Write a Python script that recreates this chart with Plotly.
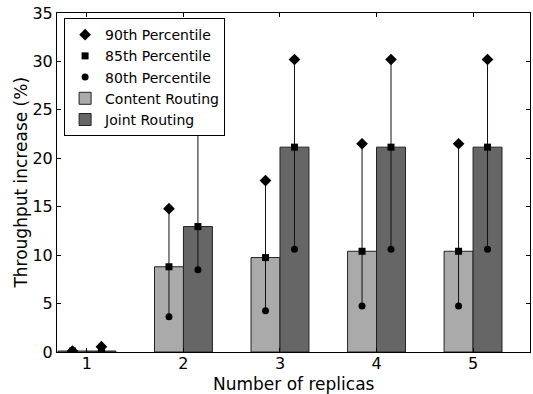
import plotly.graph_objects as go

replicas = [1, 2, 3, 4, 5]
content_p85 = [0.1, 8.8, 9.75, 10.4, 10.4]
content_p90 = [0.1, 14.8, 17.7, 21.5, 21.5]
content_p80 = [0.1, 3.65, 4.25, 4.75, 4.75]
joint_p85 = [0.1, 12.95, 21.15, 21.15, 21.15]
joint_p90 = [0.55, 26.0, 30.2, 30.2, 30.2]
joint_p80 = [0.1, 8.5, 10.6, 10.6, 10.6]

BW = 0.3
xc = [r - BW / 2 for r in replicas]
xj = [r + BW / 2 for r in replicas]

fig = go.Figure()
fig.add_trace(go.Bar(x=replicas, y=content_p85, width=BW, offset=-BW, name="Content Routing",
                     marker=dict(color="#aaaaaa", line=dict(color="#222222", width=1)), legendrank=4))
fig.add_trace(go.Bar(x=replicas, y=joint_p85, width=BW, offset=0, name="Joint Routing",
                     marker=dict(color="#666666", line=dict(color="#222222", width=1)), legendrank=5))

# vertical range lines
lx, ly = [], []
for xs, lo, hi in [(xc, content_p80, content_p90), (xj, joint_p80, joint_p90)]:
    for x, a, b in zip(xs, lo, hi):
        lx += [x, x, None]
        ly += [a, b, None]
fig.add_trace(go.Scatter(x=lx, y=ly, mode="lines", line=dict(color="#111111", width=1),
                         showlegend=False, hoverinfo="skip"))

allx = xc + xj
fig.add_trace(go.Scatter(x=allx, y=content_p90 + joint_p90, mode="markers", name="90th Percentile",
                         marker=dict(symbol="diamond", size=9, color="black"), legendrank=1))
fig.add_trace(go.Scatter(x=allx, y=content_p85 + joint_p85, mode="markers", name="85th Percentile",
                         marker=dict(symbol="square", size=7, color="black"), legendrank=2))
fig.add_trace(go.Scatter(x=allx, y=content_p80 + joint_p80, mode="markers", name="80th Percentile",
                         marker=dict(symbol="circle", size=7, color="black"), legendrank=3))

axis_common = dict(showline=True, linecolor="black", linewidth=1, mirror="allticks",
                   ticks="inside", ticklen=4, tickcolor="black", showgrid=False, zeroline=False,
                   tickfont=dict(size=16, color="black"), automargin=False)
fig.update_layout(
    width=533, height=394,
    margin=dict(l=57, r=3, t=13, b=42),
    plot_bgcolor="white", paper_bgcolor="white",
    font=dict(family="DejaVu Sans", color="black"),
    barmode="overlay",
    xaxis=dict(range=[0.69, 5.59], tickvals=replicas, ticktext=[str(r) for r in replicas],
               ticklabelstandoff=-3, **axis_common),
    yaxis=dict(range=[0, 35], tickvals=[0, 5, 10, 15, 20, 25, 30, 35], **axis_common),
    legend=dict(x=0.015, y=0.985, xanchor="left", yanchor="top", bgcolor="white",
                bordercolor="black", borderwidth=1, font=dict(size=14), tracegroupgap=0),
    showlegend=True,
    annotations=[
        dict(text="Number of replicas", xref="paper", yref="paper", x=0.5, y=-0.095,
             xanchor="center", yanchor="middle", showarrow=False, font=dict(size=17)),
        dict(text="Throughput increase (%)", xref="paper", yref="paper", x=-0.078, y=0.5,
             xanchor="center", yanchor="middle", textangle=-90, showarrow=False, font=dict(size=17)),
    ],
)
fig.write_html("out.html", config={"displayModeBar": False})
with open("out.html", encoding="utf-8") as f:
    html = f.read()
html = html.replace("<head>", "<head><style>html,body{margin:0;padding:0;overflow:hidden;}</style>", 1)
with open("out.html", "w", encoding="utf-8") as f:
    f.write(html)
